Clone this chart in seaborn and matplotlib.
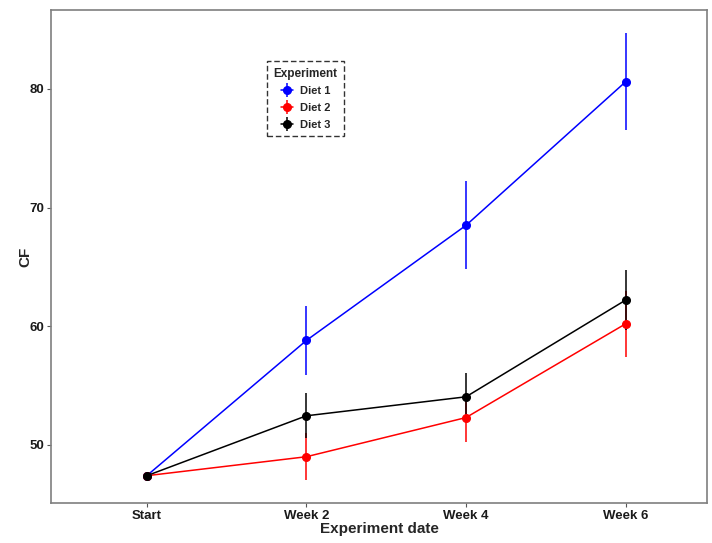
import matplotlib
matplotlib.use("Agg")
import matplotlib.pyplot as plt
from matplotlib.lines import Line2D
import seaborn as sns
import pandas as pd
import numpy as np

dates = ["Start", "Week 2", "Week 4", "Week 6"]
groups = ["Diet 1", "Diet 2", "Diet 3"]
diet1_mean = [47.4, 58.8, 68.5, 80.6]
diet1_err = [0.0, 2.9, 3.7, 4.1]
diet2_mean = [47.4, 49.0, 52.3, 60.2]
diet2_err = [0.0, 2.0, 2.1, 2.8]
diet3_mean = [47.4, 52.45, 54.05, 62.2]
diet3_err = [0.0, 1.9, 2.0, 2.5]
colors = ["#0000FF", "#FF0000", "#000000"]
y_ticks = [50, 60, 70, 80]

means = [diet1_mean, diet2_mean, diet3_mean]
errs = [diet1_err, diet2_err, diet3_err]
rows = []
for g, m, e in zip(groups, means, errs):
    for i, d in enumerate(dates):
        rows.append({"Experiment": g, "date": d, "pos": i, "CF": m[i], "sd": e[i]})
df = pd.DataFrame(rows)

sns.set_theme(style="white")
plt.rcParams["font.family"] = ["Liberation Sans", "DejaVu Sans"]

fig = plt.figure(figsize=(7.12, 5.43), dpi=100)
ax = fig.add_axes([51/712, 1 - 503/543, (707-51)/712, (503-10)/543])

palette = dict(zip(groups, colors))
sns.lineplot(data=df, x="pos", y="CF", hue="Experiment", palette=palette,
             linewidth=1.1, legend=False, ax=ax, sort=True, estimator=None)

handles = []
for g, c in zip(groups, colors):
    sub = df[df["Experiment"] == g]
    ax.errorbar(sub["pos"], sub["CF"], yerr=sub["sd"], fmt="o", color=c,
                ecolor=c, elinewidth=1.1, markersize=5.5, capsize=0,
                linestyle="none", zorder=3)
    h1 = Line2D([], [], color=c, marker="o", markersize=5.5, linewidth=1.1)
    h2 = Line2D([], [], color=c, marker="|", markersize=10, markeredgewidth=1.1,
                linestyle="none")
    handles.append((h1, h2))

ax.set_xlim(-0.6, 3.51)
ax.set_ylim(45.1, 86.65)
ax.set_xticks(range(len(dates)))
ax.set_xticklabels(dates)
ax.set_yticks(y_ticks)
for lab in ax.get_xticklabels() + ax.get_yticklabels():
    lab.set_fontweight("bold")
    lab.set_fontsize(9.5)
    lab.set_color("#1a1a1a")
ax.tick_params(axis="both", which="major", length=3, width=0.8, color="#555555",
               direction="out", bottom=True, left=True, pad=2)
ax.set_xlabel("Experiment date", fontsize=11, fontweight="bold", labelpad=0)
ax.set_ylabel("CF", fontsize=11, fontweight="bold", labelpad=-2)
for s in ax.spines.values():
    s.set_color("#7f7f7f")
    s.set_linewidth(1.2)
ax.grid(False)

leg = ax.legend(handles, groups, title="Experiment", loc="upper left",
                bbox_to_anchor=((267-51)/656, 1 - (61-10)/493),
                frameon=True, fancybox=False, fontsize=8,
                title_fontproperties={"weight": "bold", "size": 8.5},
                handlelength=1.1, handletextpad=0.6, borderpad=0.6,
                labelspacing=0.6, borderaxespad=0)
for t in leg.get_texts():
    t.set_fontweight("bold")
fr = leg.get_frame()
fr.set_edgecolor("black")
fr.set_linestyle((0, (4, 2)))
fr.set_linewidth(1.0)

fig.savefig("out.png", dpi=100)
